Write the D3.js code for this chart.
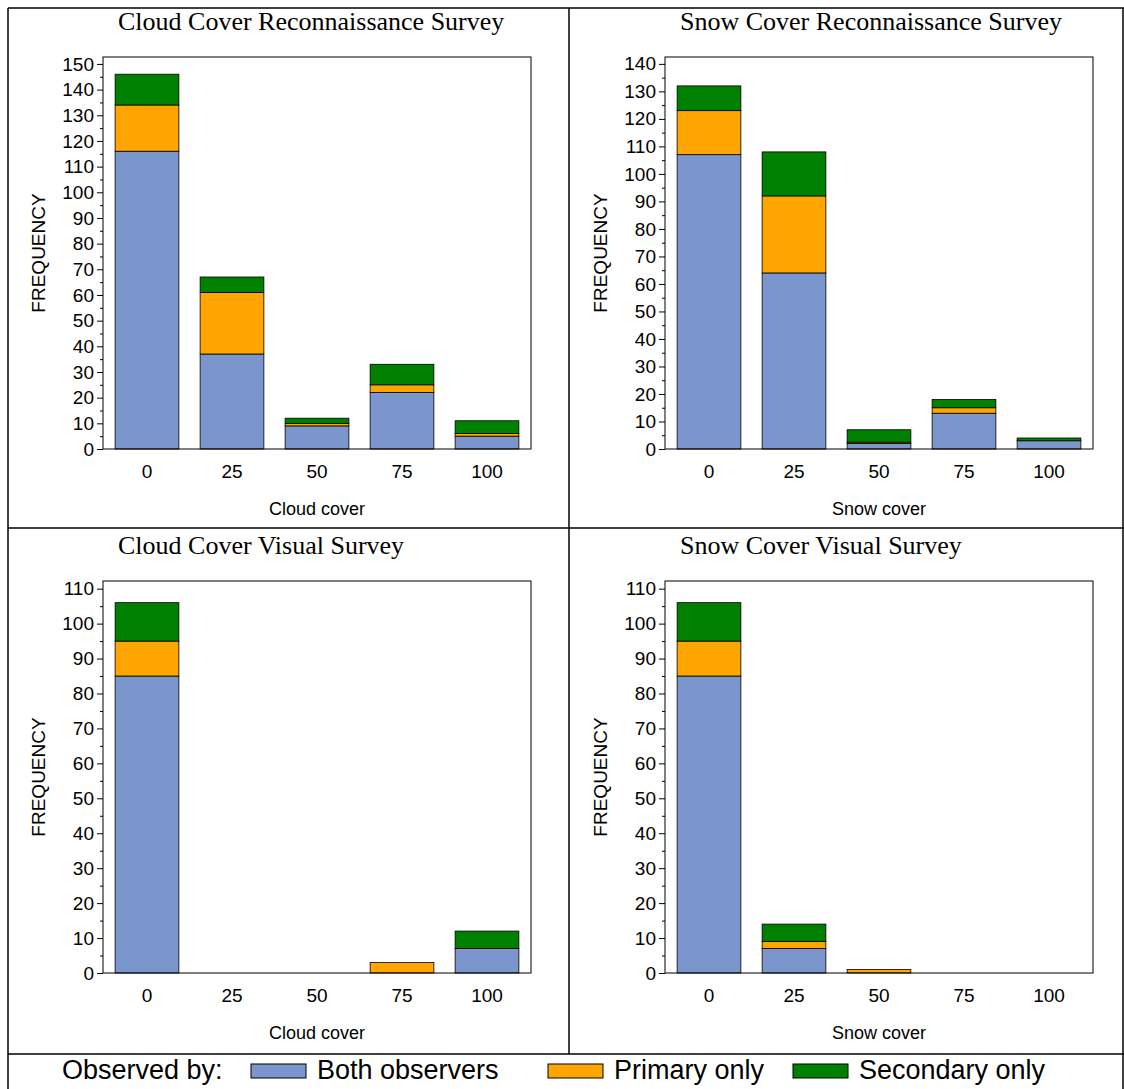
<!DOCTYPE html><html><head><meta charset="utf-8"><script src="https://cdn.jsdelivr.net/npm/d3@7"></script>
<style>body{margin:0;background:#fff}</style></head><body><svg id="c" width="1124" height="1089"></svg><script>
const categories=["0","25","50","75","100"];
const seriesNames=["Both observers","Primary only","Secondary only"];
const colors=["#7b96cc","#ffa500","#008000"];
const cloudRecon={both:[116,37,9,22,5],primary:[18,24,1,3,1],secondary:[12,6,2,8,5]};
const snowRecon={both:[107,64,2,13,3],primary:[16,28,0.5,2,0],secondary:[9,16,4.5,3,1]};
const cloudVisual={both:[85,0,0,0,7],primary:[10,0,0,3,0],secondary:[11,0,0,0,5]};
const snowVisual={both:[85,7,0,0,0],primary:[10,2,1,0,0],secondary:[11,5,0,0,0]};
const panels=[
 {title:"Cloud Cover Reconnaissance Survey",xl:"Cloud cover",d:cloudRecon,max:152.7,tickMax:150,dx:0,dy:0},
 {title:"Snow Cover Reconnaissance Survey",xl:"Snow cover",d:snowRecon,max:142.5,tickMax:140,dx:562,dy:0},
 {title:"Cloud Cover Visual Survey",xl:"Cloud cover",d:cloudVisual,max:112.2,tickMax:110,dx:0,dy:524},
 {title:"Snow Cover Visual Survey",xl:"Snow cover",d:snowVisual,max:112.2,tickMax:110,dx:562,dy:524}];
const svg=d3.select("#c");
const fr=svg.append("g").attr("stroke","#000").attr("stroke-width",1.5);
[[8,8,1124,8],[8,8,8,1089],[569,8,569,1054],[8,528,1124,528],[8,1054,1124,1054],[1123,8,1123,1089]].forEach(l=>fr.append("line").attr("x1",l[0]).attr("y1",l[1]).attr("x2",l[2]).attr("y2",l[3]));
panels.forEach(p=>{
 const g=svg.append("g").attr("transform",`translate(${p.dx},${p.dy})`);
 const L=103,R=531,T=57,B=449;
 const x=d3.scaleBand().domain(categories).range([104.5,529.5]).paddingInner(0.25).paddingOuter(0.125);
 const y=d3.scaleLinear().domain([0,p.max]).range([B,T]);
 g.append("text").attr("x",118).attr("y",30).attr("font-family","Liberation Serif").attr("font-size",26).text(p.title);
 const rows=categories.map((c,i)=>({c,both:p.d.both[i],primary:p.d.primary[i],secondary:p.d.secondary[i]}));
 const st=d3.stack().keys(["both","primary","secondary"])(rows);
 st.forEach((s,k)=>{g.selectAll(null).data(s).join("rect").attr("x",d=>x(d.data.c)).attr("width",x.bandwidth())
  .attr("y",d=>y(d[1])).attr("height",d=>y(d[0])-y(d[1])).attr("fill",colors[k]).attr("stroke","#000").attr("stroke-width",d=>d[1]-d[0]>0?0.8:0);});
 g.append("rect").attr("x",L).attr("y",T).attr("width",R-L).attr("height",B-T).attr("fill","none").attr("stroke","#000");
 const ya=g.append("g").attr("transform",`translate(${L},0)`).call(d3.axisLeft(y).tickValues(d3.range(0,p.tickMax+1,10)).tickSize(6).tickPadding(3));
 g.append("g").attr("transform",`translate(${L},0)`).call(d3.axisLeft(y).tickValues(d3.range(5,p.tickMax,10)).tickSize(3).tickFormat("")).select(".domain").remove();
 ya.selectAll("text").attr("font-family","Liberation Sans").attr("font-size",19).attr("fill","#000");
 ya.select(".domain").remove();
 const xa=g.append("g").attr("transform",`translate(0,${B})`).call(d3.axisBottom(x).tickSize(0).tickPadding(16));
 xa.select(".domain").remove();
 xa.selectAll("text").attr("font-family","Liberation Sans").attr("font-size",19).attr("fill","#000");
 g.append("text").attr("x",317).attr("y",515).attr("text-anchor","middle").attr("font-family","Liberation Sans").attr("font-size",18).text(p.xl);
 g.append("text").attr("transform",`translate(45,253) rotate(-90)`).attr("text-anchor","middle").attr("font-family","Liberation Sans").attr("font-size",19).text("FREQUENCY");
});
const lg=svg.append("g").attr("font-family","Liberation Sans").attr("font-size",27);
lg.append("text").attr("x",62).attr("y",1079).text("Observed by:");
const lx=[251,548,793];
seriesNames.forEach((n,i)=>{lg.append("rect").attr("x",lx[i]).attr("y",1064).attr("width",55).attr("height",14).attr("fill",colors[i]).attr("stroke","#000");
 lg.append("text").attr("x",lx[i]+66).attr("y",1079).text(n);});
</script></body></html>
